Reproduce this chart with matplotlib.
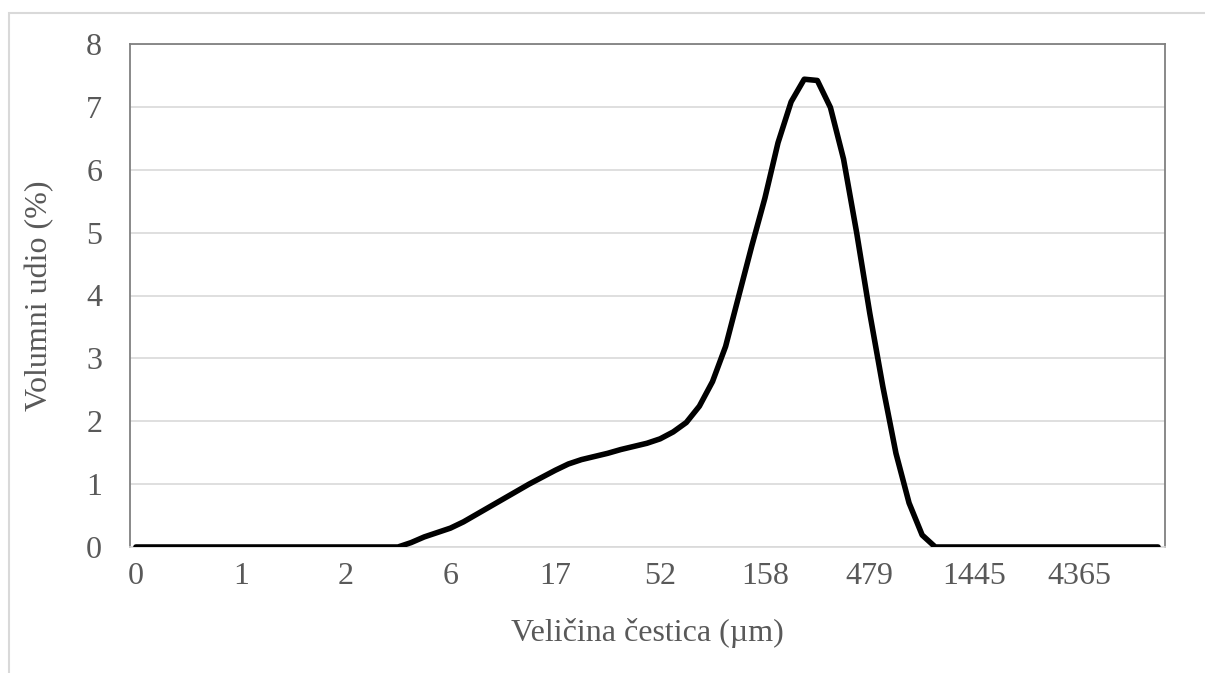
import matplotlib
matplotlib.use("Agg")
import matplotlib.pyplot as plt
from matplotlib.patches import Rectangle

# volume fraction (%) per size class, 79 classes
volume = [0, 0, 0, 0, 0, 0, 0, 0, 0, 0,
          0, 0, 0, 0, 0, 0, 0, 0, 0, 0,
          0, 0.07, 0.16, 0.23, 0.30, 0.40, 0.52, 0.64, 0.76, 0.88,
          1.00, 1.11, 1.22, 1.32, 1.39, 1.44, 1.49, 1.55, 1.60, 1.65,
          1.72, 1.83, 1.98, 2.24, 2.63, 3.19, 3.99, 4.79, 5.55, 6.43,
          7.08, 7.44, 7.42, 6.99, 6.17, 5.00, 3.72, 2.55, 1.49, 0.70,
          0.19, 0, 0, 0, 0, 0, 0, 0, 0, 0,
          0, 0, 0, 0, 0, 0, 0, 0, 0]

# category labels shown on the axis (every 8th class)
tick_labels = ['0', '1', '2', '6', '17', '52', '158', '479', '1445', '4365']
label_step = 8

y_ticks = [0, 1, 2, 3, 4, 5, 6, 7, 8]

plt.rcParams['font.family'] = ['Liberation Serif', 'DejaVu Serif']

fig = plt.figure(figsize=(12.05, 6.73), dpi=100)
# outer chart border (Excel chart area)
fig.patches.append(Rectangle((9 / 1205, -0.1), 1.2, 1.1 - 13 / 673, transform=fig.transFigure,
                             fill=False, edgecolor='#d9d9d9', linewidth=1.5))

ax = fig.add_axes([130 / 1205, 126 / 673, 1035 / 1205, 503 / 673])

x = list(range(len(volume)))
ax.plot(x, volume, color='black', linewidth=4.0, solid_joinstyle='round', solid_capstyle='round',
        zorder=3)

ax.set_xlim(-0.45, len(volume) - 1 + 0.53)
ax.set_ylim(0, 8)
ax.set_yticks(y_ticks)
ax.set_yticklabels([str(v) for v in y_ticks])
ax.set_xticks([i * label_step for i in range(len(tick_labels))])
ax.set_xticklabels(tick_labels)

ax.grid(axis='y', color='#d9d9d9', linewidth=1.2)
ax.set_axisbelow(True)
ax.tick_params(axis='both', length=0, labelsize=23, labelcolor='#595959')
ax.tick_params(axis='y', pad=20)
ax.tick_params(axis='x', pad=11)

for side in ['left', 'top', 'right']:
    ax.spines[side].set_color('#808080')
    ax.spines[side].set_linewidth(1.3)
ax.spines['bottom'].set_color('#d9d9d9')
ax.spines['bottom'].set_linewidth(1.2)

ax.set_xlabel('Veličina čestica (µm)', fontsize=23, color='#595959', labelpad=19)
ax.set_ylabel('Volumni udio (%)', fontsize=23, color='#595959', labelpad=23)

fig.savefig('out.png', dpi=100)
